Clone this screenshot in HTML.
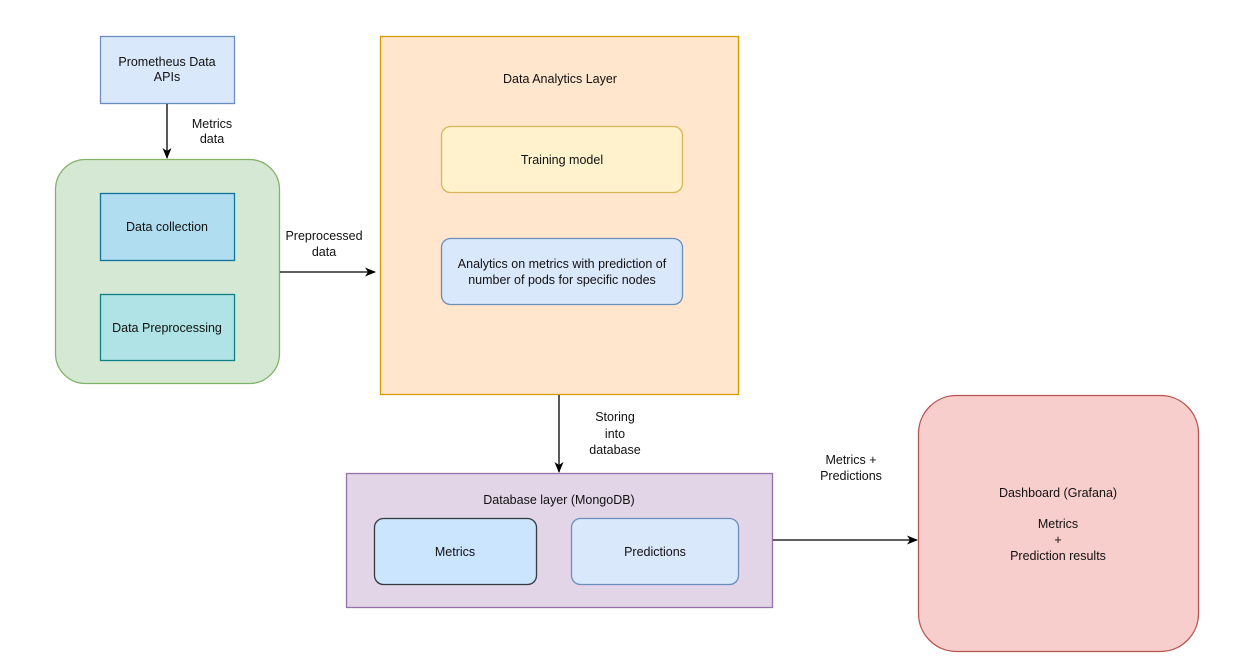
<!DOCTYPE html>
<html><head><meta charset="utf-8"><style>
html,body{margin:0;padding:0;background:#fff;}
svg{display:block;}
text{font-family:"Liberation Sans",Arial,sans-serif;font-size:12.5px;fill:#111;}
rect{stroke-width:1.3;}
</style></head><body>
<svg width="1242" height="670" viewBox="0 0 1242 670">
<defs><marker id="a" markerWidth="12" markerHeight="12" refX="10" refY="6" orient="auto" markerUnits="userSpaceOnUse"><path d="M0,1.5 L11,6 L0,10.5 L3,6 Z" fill="#000"/></marker></defs>
<rect x="100.5" y="36.5" width="134" height="67" fill="#dae8fc" stroke="#6c8ebf"/>
<text x="167" y="66" text-anchor="middle">Prometheus Data</text>
<text x="167" y="81" text-anchor="middle">APIs</text>
<line x1="167" y1="104" x2="167" y2="158" stroke="#000" stroke-width="1.3" marker-end="url(#a)"/>
<text x="212" y="128" text-anchor="middle">Metrics</text>
<text x="212" y="143" text-anchor="middle">data</text>
<rect x="55.5" y="159.5" width="224" height="224" rx="30" fill="#d5e8d4" stroke="#82b366"/>
<rect x="100.5" y="193.5" width="134" height="67" fill="#b1ddf0" stroke="#10739e"/>
<text x="167" y="231" text-anchor="middle">Data collection</text>
<rect x="100.5" y="294.5" width="134" height="66" fill="#b0e3e6" stroke="#0e8088"/>
<text x="167" y="332" text-anchor="middle">Data Preprocessing</text>
<line x1="280" y1="272" x2="375" y2="272" stroke="#000" stroke-width="1.3" marker-end="url(#a)"/>
<text x="324" y="240" text-anchor="middle">Preprocessed</text>
<text x="324" y="256" text-anchor="middle">data</text>
<rect x="380.5" y="36.5" width="358" height="358" fill="#ffe6cc" stroke="#d79b00"/>
<text x="560" y="83" text-anchor="middle">Data Analytics Layer</text>
<rect x="441.5" y="126.5" width="241" height="66" rx="9" fill="#fff2cc" stroke="#d6b656"/>
<text x="562" y="164" text-anchor="middle">Training model</text>
<rect x="441.5" y="238.5" width="241" height="66" rx="9" fill="#dae8fc" stroke="#6c8ebf"/>
<text x="562" y="268" text-anchor="middle">Analytics on metrics with prediction of</text>
<text x="562" y="284" text-anchor="middle">number of pods for specific nodes</text>
<line x1="559" y1="395" x2="559" y2="472" stroke="#000" stroke-width="1.3" marker-end="url(#a)"/>
<text x="615" y="421" text-anchor="middle">Storing</text>
<text x="615" y="438" text-anchor="middle">into</text>
<text x="615" y="454" text-anchor="middle">database</text>
<rect x="346.5" y="473.5" width="426" height="134" fill="#e1d5e7" stroke="#9673a6"/>
<text x="559" y="504" text-anchor="middle">Database layer (MongoDB)</text>
<rect x="374.5" y="518.5" width="162" height="66" rx="9" fill="#cce5ff" stroke="#36393d"/>
<text x="455" y="556" text-anchor="middle">Metrics</text>
<rect x="571.5" y="518.5" width="167" height="66" rx="9" fill="#dae8fc" stroke="#6c8ebf"/>
<text x="655" y="556" text-anchor="middle">Predictions</text>
<line x1="773" y1="540" x2="917" y2="540" stroke="#000" stroke-width="1.3" marker-end="url(#a)"/>
<text x="851" y="464" text-anchor="middle">Metrics +</text>
<text x="851" y="480" text-anchor="middle">Predictions</text>
<rect x="918.5" y="395.5" width="280" height="256" rx="38" fill="#f8cecc" stroke="#b85450"/>
<text x="1058" y="497" text-anchor="middle">Dashboard (Grafana)</text>
<text x="1058" y="528" text-anchor="middle">Metrics</text>
<text x="1058" y="544" text-anchor="middle">+</text>
<text x="1058" y="560" text-anchor="middle">Prediction results</text>
</svg>
</body></html>
